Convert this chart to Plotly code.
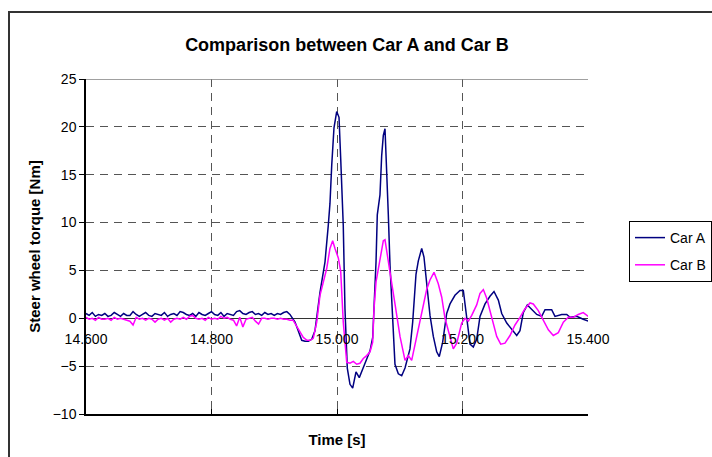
import plotly.graph_objects as go

# ---------------- data ----------------
time_a = [
    14.600, 14.605, 14.610, 14.615, 14.620, 14.625, 14.630, 14.635, 14.640, 14.645,
    14.650, 14.655, 14.660, 14.665, 14.670, 14.675, 14.680, 14.685, 14.690, 14.695,
    14.700, 14.705, 14.710, 14.715, 14.720, 14.725, 14.730, 14.735, 14.740, 14.745,
    14.750, 14.755, 14.760, 14.765, 14.770, 14.775, 14.780, 14.785, 14.790, 14.795,
    14.800, 14.805, 14.810, 14.815, 14.820, 14.825, 14.830, 14.835, 14.840, 14.845,
    14.850, 14.855, 14.860, 14.865, 14.870, 14.875, 14.880, 14.885, 14.890, 14.895,
    14.900, 14.905, 14.910, 14.915, 14.920, 14.925,
    14.9331, 14.9438, 14.9490, 14.9543, 14.9597, 14.9649, 14.9729, 14.9809, 14.9861, 14.9888,
    14.9916, 14.9952, 14.9995, 15.0032, 15.0059, 15.0100, 15.0127, 15.0164, 15.0207, 15.0250,
    15.0303, 15.0355, 15.0410, 15.0462, 15.0526, 15.0569, 15.0590, 15.0622, 15.0642, 15.0685,
    15.0712, 15.0738, 15.0765, 15.0792, 15.0818, 15.0845, 15.0872, 15.0897, 15.0924, 15.0977,
    15.1031, 15.1084, 15.1163, 15.1206, 15.1227, 15.1259, 15.1296, 15.1350, 15.1386, 15.1429,
    15.1482, 15.1535, 15.1589, 15.1630, 15.1684, 15.1748, 15.1801, 15.1880, 15.1960, 15.2013,
    15.2067, 15.2120, 15.2172, 15.2226, 15.2279, 15.2359, 15.2438, 15.2502, 15.2571, 15.2625,
    15.2705, 15.2785, 15.2864, 15.2916, 15.2969, 15.3033, 15.3103, 15.3183, 15.3262, 15.3315,
    15.3421, 15.3474, 15.3581, 15.3661, 15.3713, 15.3820, 15.3924, 15.4005, 15.4080,
]
torque_a = [
    0.5, 0.3, 0.6, 0.2, 0.4, 0.3, 0.5, 0.2, 0.3, 0.6,
    0.4, 0.2, 0.5, 0.3, 0.3, 0.7, 0.4, 0.2, 0.4, 0.6,
    0.3, 0.2, 0.5, 0.4, 0.3, 0.6, 0.2, 0.4, 0.5, 0.3,
    0.7, 0.6, 0.4, 0.3, 0.5, 0.2, 0.6, 0.4, 0.3, 0.5,
    0.7, 0.4, 0.3, 0.6, 0.2, 0.5, 0.4, 0.3, 0.7, 0.8,
    0.5, 0.4, 0.6, 0.7, 0.4, 0.5, 0.3, 0.6, 0.4, 0.5,
    0.3, 0.5, 0.4, 0.6, 0.7, 0.4,
    -0.4, -2.3, -2.4, -2.4, -2.2, -1.3, 2.7, 5.9, 9.7, 12.0,
    16.0, 19.9, 21.6, 21.0, 16.7, 9.7, 1.0, -5.2, -6.9, -7.3,
    -5.6, -6.2, -5.3, -4.4, -3.4, -2.0, 1.0, 5.9, 10.8, 12.9,
    17.0, 19.1, 19.8, 15.6, 10.8, 5.5, 2.4, -0.9, -4.8, -5.8,
    -6.0, -5.2, -3.2, -0.4, 1.5, 4.6, 6.0, 7.3, 6.4, 3.3,
    0.3, -1.9, -3.5, -4.0, -2.5, 0.5, 1.5, 2.4, 2.9, 2.9,
    0.0, -2.7, -3.0, -2.2, 0.2, 1.5, 2.3, 2.8, 1.9, 0.5,
    -0.5, -1.1, -1.8, -1.3, 0.6, 1.4, 0.9, 0.4, 0.2, 0.9,
    0.9, 0.2, 0.4, 0.4, 0.1, 0.2, -0.1, -0.3, -0.6,
]

time_b = [
    14.600, 14.605, 14.610, 14.615, 14.620, 14.625, 14.630, 14.635, 14.640, 14.645,
    14.650, 14.655, 14.660, 14.665, 14.670, 14.675, 14.680, 14.685, 14.690, 14.695,
    14.700, 14.705, 14.710, 14.715, 14.720, 14.725, 14.730, 14.735, 14.740, 14.745,
    14.750, 14.755, 14.760, 14.765, 14.770, 14.775, 14.780, 14.785, 14.790, 14.795,
    14.800, 14.805, 14.810, 14.815, 14.820, 14.825, 14.830, 14.835, 14.840, 14.845,
    14.850, 14.855, 14.860, 14.865, 14.870, 14.875, 14.880, 14.885, 14.890, 14.895,
    14.900, 14.905, 14.910, 14.915, 14.920, 14.925, 14.930,
    14.9410, 14.9463, 14.9522, 14.9570, 14.9622, 14.9677, 14.9729, 14.9782, 14.9836, 14.9888,
    14.9931, 14.9968, 15.0021, 15.0059, 15.0100, 15.0155, 15.0207, 15.0260, 15.0314, 15.0366,
    15.0419, 15.0473, 15.0526, 15.0569, 15.0590, 15.0622, 15.0675, 15.0738, 15.0765, 15.0792,
    15.0845, 15.0924, 15.1004, 15.1084, 15.1137, 15.1190, 15.1270, 15.1350, 15.1429, 15.1482,
    15.1546, 15.1614, 15.1669, 15.1721, 15.1801, 15.1853, 15.1908, 15.1987, 15.2040, 15.2093,
    15.2147, 15.2226, 15.2279, 15.2332, 15.2386, 15.2466, 15.2545, 15.2609, 15.2677, 15.2757,
    15.2837, 15.2916, 15.2996, 15.3076, 15.3128, 15.3208, 15.3288, 15.3368, 15.3447, 15.3527,
    15.3607, 15.3686, 15.3766, 15.3845, 15.3924, 15.4005,
]
torque_b = [
    0.1, -0.1, 0.0, -0.2, 0.1, -0.1, -0.1, 0.0, -0.2, 0.1,
    -0.1, 0.0, -0.1, -0.2, -0.3, -0.7, 0.1, -0.1, 0.0, -0.2,
    0.0, -0.1, -0.4, -0.1, 0.0, -0.2, 0.0, -0.4, -0.1, 0.0,
    -0.1, 0.1, -0.1, 0.2, 0.3, 0.0, -0.1, 0.0, -0.2, 0.1,
    -0.1, 0.0, -0.1, 0.2, 0.0, 0.1, -0.1, -0.2, -0.8, 0.1,
    -0.9, -0.1, 0.0, 0.1, -0.3, -0.6, 0.0, 0.0, -0.1, 0.0,
    0.0, -0.1, 0.0, -0.1, -0.1, -0.2, -0.2,
    -1.4, -2.0, -2.3, -2.3, -2.1, -0.4, 2.4, 3.8, 5.2, 7.3,
    8.1, 7.3, 6.3, 4.9, -0.4, -4.6, -4.7, -4.5, -4.8, -4.7,
    -4.2, -3.9, -3.5, -2.5, 1.0, 3.8, 5.9, 8.1, 8.2, 6.9,
    4.8, 1.5, -1.9, -4.4, -3.9, -4.4, -2.0, 0.6, 3.0, 4.0,
    4.8, 3.6, 2.2, 0.0, -1.9, -3.2, -2.6, -0.5, 0.0, -0.3,
    0.3, 1.4, 2.6, 3.0, 2.1, 0.0, -1.9, -2.7, -2.6, -1.8,
    -0.7, 0.1, 1.0, 1.6, 1.5, 0.8, -0.2, -1.2, -1.8, -1.5,
    -0.4, 0.1, 0.1, 0.4, 0.6, 0.2,
]

series_names = ["Car A", "Car B"]
x_tick_vals = [14.6, 14.8, 15.0, 15.2, 15.4]
x_tick_text = ["14.600", "14.800", "15.000", "15.200", "15.400"]
y_tick_vals = [-10, -5, 0, 5, 10, 15, 20, 25]

# ---------------- figure ----------------
FONT = "Liberation Sans, Arial, sans-serif"
GRID = "#555555"
DASH = "8px,6px"

fig = go.Figure()
fig.add_trace(go.Scatter(x=time_a, y=torque_a, mode="lines", name=series_names[0],
                         legendgroup="a", line=dict(color="#000080", width=1.5)))
# Car B is drawn against the overlaying axis that carries the labels on the zero line
fig.add_trace(go.Scatter(x=time_b, y=torque_b, mode="lines", name=series_names[1],
                         xaxis="x2", yaxis="y",
                         legendgroup="b", line=dict(color="#FF00FF", width=1.5)))

fig.update_layout(
    width=712, height=457,
    margin=dict(l=86, r=124, t=79, b=43, autoexpand=False),
    paper_bgcolor="white", plot_bgcolor="white",
    font=dict(family=FONT, size=14, color="black"),
    title=dict(text="<b>Comparison between Car A and Car B</b>",
               x=347 / 712, xanchor="center", y=1 - 45 / 457, yanchor="middle",
               font=dict(size=18, family=FONT, color="black")),
    showlegend=True,
    legend=dict(x=(629 - 86) / 502, xanchor="left", y=(414 - 221) / 335, yanchor="top",
                bordercolor="black", borderwidth=1, bgcolor="white",
                font=dict(size=14, family=FONT), tracegroupgap=6,
                traceorder="grouped"),
    xaxis=dict(range=[14.6, 15.4], tickvals=x_tick_vals, showticklabels=False,
               ticks="inside", ticklen=5, tickcolor="black", tickwidth=1,
               showline=True, linecolor="black", linewidth=1.5,
               showgrid=True, gridcolor=GRID, griddash=DASH, gridwidth=1,
               zeroline=False,
               title=dict(text="<b>Time [s]</b>", standoff=20,
                          font=dict(size=15, family=FONT))),
    xaxis2=dict(range=[14.6, 15.4], overlaying="x", anchor="free", position=10 / 35,
                side="bottom", tickvals=x_tick_vals, ticktext=x_tick_text,
                ticks="outside", ticklen=8, tickcolor="rgba(0,0,0,0)",
                showline=False, showgrid=False, zeroline=False,
                tickfont=dict(size=14, family=FONT, color="black")),
    yaxis=dict(range=[-10, 25], tickvals=y_tick_vals,
               ticks="outside", ticklen=5, tickcolor="black", tickwidth=1,
               showline=True, linecolor="black", linewidth=1.5,
               showgrid=True, gridcolor=GRID, griddash=DASH, gridwidth=1,
               zeroline=True, zerolinecolor="#333333", zerolinewidth=1,
               tickfont=dict(size=14, family=FONT, color="black"),
               title=dict(text="<b>Steer wheel torque [Nm]</b>", standoff=8,
                          font=dict(size=15, family=FONT))),
)

# solid top edge of the plot area
fig.add_shape(type="line", xref="paper", yref="y", x0=0, x1=1, y0=25, y1=25,
              line=dict(color="#808080", width=1.5), layer="above")
# outer chart border (extends past the right and bottom edges of the picture)
fig.add_shape(type="rect", xref="paper", yref="paper",
              x0=(9 - 86) / 502, x1=(730 - 86) / 502,
              y0=(414 - 470) / 335, y1=(414 - 12) / 335,
              line=dict(color="#333333", width=2), fillcolor="rgba(0,0,0,0)")

fig.write_html("out.html")
